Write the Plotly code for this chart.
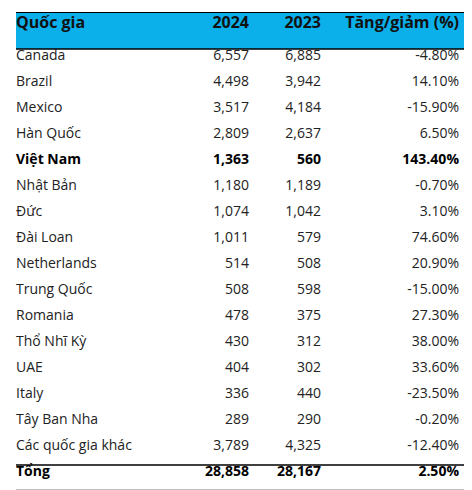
import plotly.graph_objects as go

countries = [
    "Canada", "Brazil", "Mexico", "Hàn Quốc", "Việt Nam", "Nhật Bản", "Đức",
    "Đài Loan", "Netherlands", "Trung Quốc", "Romania", "Thổ Nhĩ Kỳ", "UAE",
    "Italy", "Tây Ban Nha", "Các quốc gia khác", "Tổng",
]
values_2024 = [6557, 4498, 3517, 2809, 1363, 1180, 1074, 1011, 514, 508, 478, 430, 404, 336, 289, 3789, 28858]
values_2023 = [6885, 3942, 4184, 2637, 560, 1189, 1042, 579, 508, 598, 375, 312, 302, 440, 290, 4325, 28167]
change_pct = [-4.8, 14.1, -15.9, 6.5, 143.4, -0.7, 3.1, 74.6, 20.9, -15.0, 27.3, 38.0, 33.6, -23.5, -0.2, -12.4, 2.5]
headers = ["Quốc gia", "2024", "2023", "Tăng/giảm (%)"]
bold_rows = ["Việt Nam", "Tổng"]

W, H = 472, 490
FONT = "Open Sans"
HEADER_BLUE = "#0BAFEA"
CLEAR = "rgba(0,0,0,0)"

columns = [
    list(countries),
    [f"{v:,}" for v in values_2024],
    [f"{v:,}" for v in values_2023],
    [f"{p:.2f}%" for p in change_pct],
]
is_bold = [c in bold_rows for c in countries]


def layer(bold):
    # keep only the rows of one weight, blank the others
    return [[t if b == bold else "" for t, b in zip(col, is_bold)] for col in columns]


def make_table(bold, show_header):
    return go.Table(
        domain=dict(x=[0, 459 / W], y=[0, 1]),
        columnwidth=[177, 72, 72, 138],
        header=dict(
            values=headers,
            fill_color=CLEAR,
            line=dict(color=CLEAR, width=0),
            align=["left", "right", "right", "right"],
            font=dict(family=FONT, size=16, weight="bold",
                      color="#111111" if show_header else CLEAR),
            height=33,
        ),
        cells=dict(
            values=layer(bold),
            fill_color=CLEAR,
            line=dict(color=CLEAR, width=0),
            align=["left", "right", "right", "right"],
            font=dict(family=FONT, size=14,
                      weight="bold" if bold else "normal",
                      color="#000000" if bold else "#222222"),
            height=26,
        ),
    )


fig = go.Figure([make_table(False, True), make_table(True, False)])

# header band behind the tables
fig.add_shape(
    type="rect", xref="paper", yref="paper", layer="below",
    x0=8 / W, x1=463 / W, y0=1 - 41 / H, y1=1 - 5 / H,
    fillcolor=HEADER_BLUE, line=dict(width=0),
)

line_y = [(4.5, 1.2), (41, 1.5), (457, 1.5), (483, 2.5)]
for y, w in line_y:
    fig.add_shape(
        type="line", xref="paper", yref="paper",
        x0=8 / W, x1=463 / W, y0=1 - y / H, y1=1 - y / H,
        line=dict(color="#000000", width=w),
    )

fig.update_layout(
    width=W, height=H,
    margin=dict(l=0, r=0, t=0, b=0),
    paper_bgcolor="white",
)

fig.write_html("out.html")
